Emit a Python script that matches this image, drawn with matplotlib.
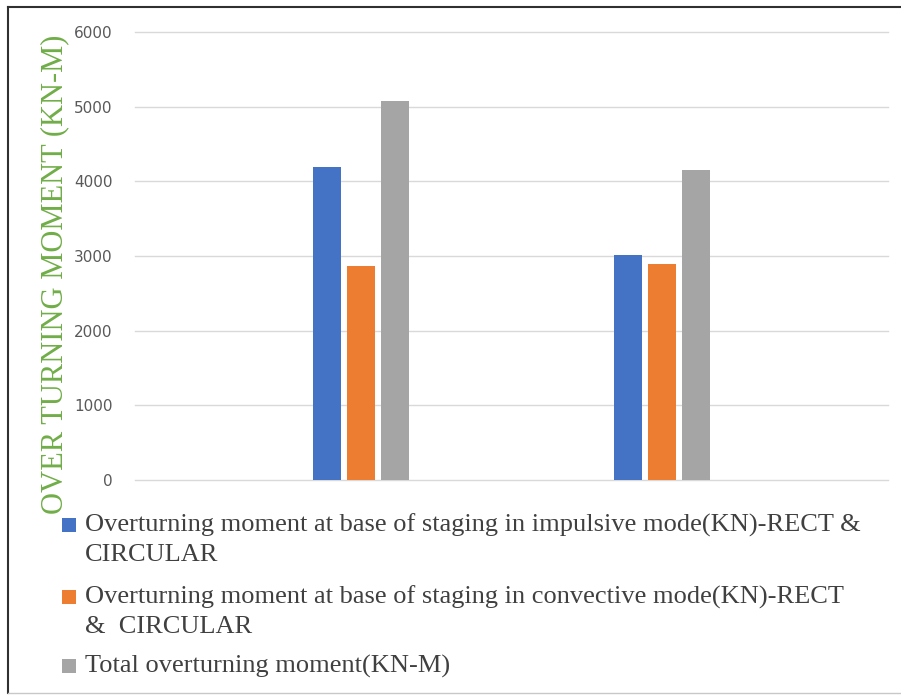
#!/usr/bin/env python3
"""Overturning moment bars, impulsive / convective / total."""

import matplotlib

matplotlib.use("Agg")
import matplotlib.pyplot as plt
from matplotlib.lines import Line2D
from matplotlib.patches import Rectangle
import numpy as np

# five category slots, only the 2nd and 4th hold data
slots = [0, 1, 2, 3, 4]
impulsive = [0, 4190, 0, 3010, 0]
convective = [0, 2860, 0, 2890, 0]
total = [0, 5075, 0, 4150, 0]

series_labels = [
    "Overturning moment at base of staging in impulsive mode(KN)-RECT &\nCIRCULAR",
    "Overturning moment at base of staging in convective mode(KN)-RECT\n&  CIRCULAR",
    "Total overturning moment(KN-M)",
]
colors = ["#4472C4", "#ED7D31", "#A5A5A5"]
yticks = [0, 1000, 2000, 3000, 4000, 5000, 6000]

W, H = 901, 695
fig = plt.figure(figsize=(W / 100, H / 100), dpi=100)
ax = fig.add_axes([135 / W, (H - 480) / H, 753 / W, 448 / H])

x = np.array(slots, dtype=float)
width = 0.185
step = 0.225
for i, (vals, color) in enumerate(zip([impulsive, convective, total], colors)):
    vals = np.array(vals, dtype=float)
    keep = vals > 0
    ax.bar(x[keep] + (i - 1) * step, vals[keep], width=width, color=color, linewidth=0, zorder=3)

ax.set_xlim(-0.5, 4.5)
ax.set_ylim(0, 6000)
ax.set_yticks(yticks)
ax.set_xticks([])
ax.yaxis.grid(True, color="#D9D9D9", lw=1.0, zorder=0)
for gl in ax.get_ygridlines():
    gl.set_clip_on(False)
ax.tick_params(axis="y", length=0, pad=16, labelsize=11, labelcolor="#595959")
for spine in ax.spines.values():
    spine.set_visible(False)

ax.set_ylabel(
    "OVER TURNING MOMENT (KN-M)",
    family="Liberation Serif",
    fontsize=22,
    color="#70AD47",
)
ax.yaxis.set_label_coords((69 - 135) / 753, (480 - 274) / 448)

# legend below the plot, squares aligned with the first text line
baselines = [532, 604, 673]
line_gap = 29
for label, color, base in zip(series_labels, colors, baselines):
    fig.patches.append(
        Rectangle(
            (62 / W, (H - base) / H),
            14 / W,
            14 / H,
            transform=fig.transFigure,
            facecolor=color,
            edgecolor="none",
        )
    )
    for k, line in enumerate(label.split("\n")):
        fig.text(
            85 / W,
            (H - base - k * line_gap) / H,
            line,
            family="Liberation Serif",
            fontsize=19,
            color="#404040",
            va="baseline",
            ha="left",
        )

# frame of the original screenshot
fig.add_artist(Line2D([8 / W, 1], [(H - 7) / H, (H - 7) / H], color="#303030", lw=1.5))
fig.add_artist(Line2D([8 / W, 8 / W], [(H - 7) / H, (H - 693) / H], color="#303030", lw=1.5))
fig.add_artist(Line2D([8 / W, 1], [(H - 693) / H, (H - 693) / H], color="#C8C8C8", lw=1.0))

fig.savefig("out.png", dpi=100)
plt.close(fig)
